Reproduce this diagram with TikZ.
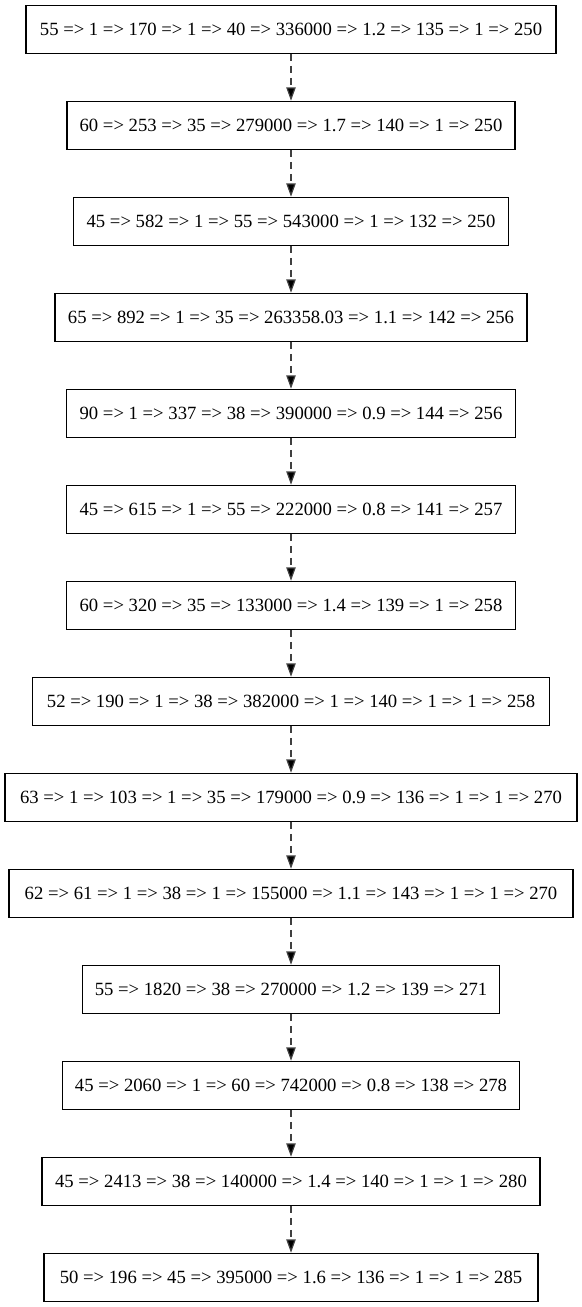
\documentclass[tikz,border=0pt]{standalone}
\usepackage{fontspec}
\setmainfont{Liberation Serif}
\usetikzlibrary{arrows.meta}
\begin{document}
\begin{tikzpicture}[x=1pt,y=1pt,
  rec/.style={draw=black, line width=0.9pt, rectangle, minimum height=36pt,
    minimum width=#1, inner xsep=8pt, inner ysep=0pt,
    font=\fontsize{14}{16}\selectfont, anchor=center},
  link/.style={draw=black!75, line width=0.9pt, dash pattern=on 5pt off 4pt,
    -{Triangle[length=10pt,width=7pt,fill=black]}}]
\useasboundingbox (0,0) rectangle (436.5,-980.25);
\def\cx{218.25}
\node[rec=397.5pt]  (n1)  at (\cx,-22)  {55 => 1 => 170 => 1 => 40 => 336000 => 1.2 => 135 => 1 => 250};
\node[rec=336pt]    (n2)  at (\cx,-94)  {60 => 253 => 35 => 279000 => 1.7 => 140 => 1 => 250};
\node[rec=326.25pt] (n3)  at (\cx,-166) {45 => 582 => 1 => 55 => 543000 => 1 => 132 => 250};
\node[rec=354pt]    (n4)  at (\cx,-238) {65 => 892 => 1 => 35 => 263358.03 => 1.1 => 142 => 256};
\node[rec=336.75pt] (n5)  at (\cx,-310) {90 => 1 => 337 => 38 => 390000 => 0.9 => 144 => 256};
\node[rec=336.75pt] (n6)  at (\cx,-382) {45 => 615 => 1 => 55 => 222000 => 0.8 => 141 => 257};
\node[rec=336.75pt] (n7)  at (\cx,-454) {60 => 320 => 35 => 133000 => 1.4 => 139 => 1 => 258};
\node[rec=387.75pt] (n8)  at (\cx,-526) {52 => 190 => 1 => 38 => 382000 => 1 => 140 => 1 => 1 => 258};
\node[rec=429pt]    (n9)  at (\cx,-598) {63 => 1 => 103 => 1 => 35 => 179000 => 0.9 => 136 => 1 => 1 => 270};
\node[rec=423pt]    (n10) at (\cx,-670) {62 => 61 => 1 => 38 => 1 => 155000 => 1.1 => 143 => 1 => 1 => 270};
\node[rec=312.75pt] (n11) at (\cx,-742) {55 => 1820 => 38 => 270000 => 1.2 => 139 => 271};
\node[rec=342.75pt] (n12) at (\cx,-814) {45 => 2060 => 1 => 60 => 742000 => 0.8 => 138 => 278};
\node[rec=373.5pt]  (n13) at (\cx,-886) {45 => 2413 => 38 => 140000 => 1.4 => 140 => 1 => 1 => 280};
\node[rec=370.5pt]  (n14) at (\cx,-958) {50 => 196 => 45 => 395000 => 1.6 => 136 => 1 => 1 => 285};
\foreach \a/\b in {n1/n2,n2/n3,n3/n4,n4/n5,n5/n6,n6/n7,n7/n8,n8/n9,n9/n10,n10/n11,n11/n12,n12/n13,n13/n14}
  \draw[link] (\a.south) -- (\b.north);
\end{tikzpicture}
\end{document}
